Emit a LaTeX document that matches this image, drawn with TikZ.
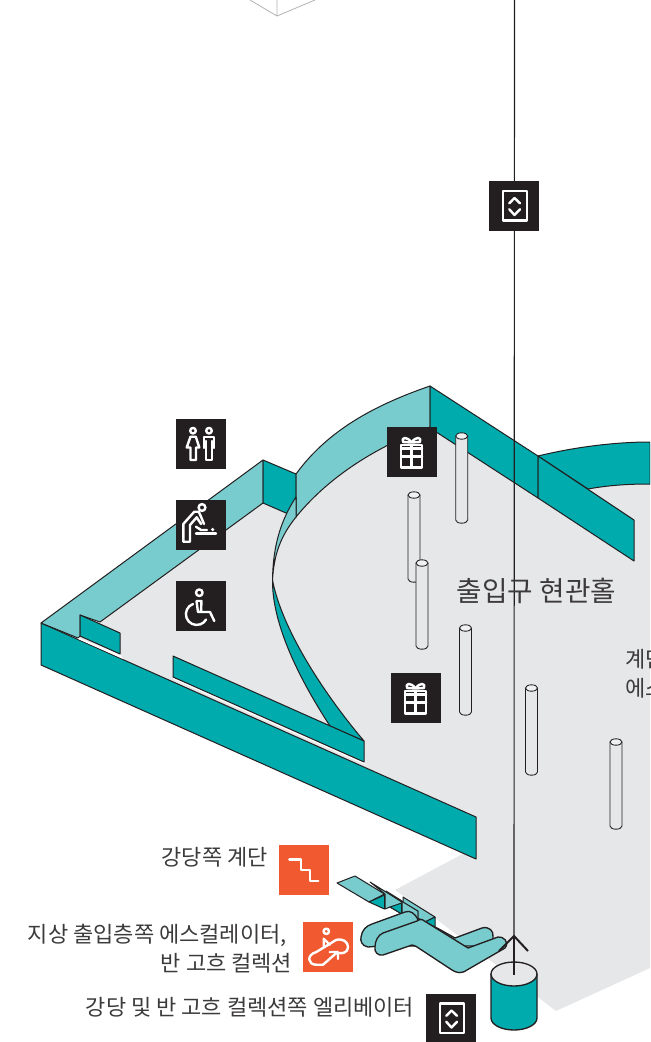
\documentclass[tikz,border=0pt]{standalone}
\usepackage{fontspec}
\newfontfamily\kr{Noto Sans CJK KR}
\definecolor{teal}{HTML}{00ABAE}
\definecolor{lteal}{HTML}{78CCCE}
\definecolor{floorg}{HTML}{E6E7E9}
\definecolor{ink}{HTML}{231F20}
\definecolor{orng}{HTML}{F15A31}
\definecolor{txt}{HTML}{3C3A3B}
\tikzset{
  wall/.style={draw=ink,line width=0.75pt,line join=round},
  dk/.style={wall,fill=teal},
  lt/.style={wall,fill=lteal},
  esc/.style={draw=ink,line width=1pt,line join=round,fill=lteal},
  pillar/.style={draw=ink,line width=0.65pt,fill=floorg},
  pillartop/.style={draw=ink,line width=0.65pt,fill=floorg!60!white},
  iconbox/.style={minimum size=37.5pt,inner sep=0pt,outer sep=0pt},
  blackbox/.style={iconbox,fill=ink},
  orangebox/.style={iconbox,fill=orng},
  gl/.style={draw=white,line width=1.8pt,line join=round,line cap=round,fill=none},
  lab/.style={inner sep=0pt,text=txt,font=\kr\fontsize{16.5}{20}\selectfont},
  biglab/.style={inner sep=0pt,text=txt,font=\kr\fontsize{20.8}{24}\selectfont},
  pics/toileticon/.style={code={
    \draw[gl] (17,11.7) circle (2.8);
    \draw[gl] (14.5,17.7)--(19.8,17.7)--(23.3,28.5)--(20,28.5)--(20,41)--(14.5,41)--(14.5,28.5)--(10.7,28.5)--cycle;
    \draw[gl] (33,11.7) circle (2.8);
    \draw[gl] (28.2,29)--(28.2,18)--(37.8,18)--(37.8,29) (30,22)--(30,41)--(36,41)--(36,22);
  }},
  pics/babyicon/.style={code={
    \draw[gl] (26,7.5) circle (3.4);
    \draw[gl] (7.3,41.7)--(7.3,24)--(18.3,11.7)--(22.7,11.7)--(25,16.7)--(28,24) (14,41.7)--(14,25)--(20.7,17.3)--(25,24) (7.3,41.7)--(14,41.7);
    \draw[gl] (20,26.7)--(25,30)--(31,30);
    \draw[gl] (20,33.6)--(40,33.6);
    \fill[white] (36.7,29.5) circle (1.8);
  }},
  pics/wheelicon/.style={code={
    \draw[gl] (23.3,11.7) circle (3.3);
    \draw[gl] (20.5,20)--(25.5,20)--(25,31)--(34,31)--(38.3,40) (20.5,20)--(22,31)--(25,31);
    \draw[gl] (17,23) arc[start angle=250,end angle=30,radius=10.8];
  }},
  pics/gifticon/.style={code={
    \draw[gl] (14,18)rectangle(35,40.3);
    \draw[gl] (14,29.5)--(35,29.5) (24.5,18)--(24.5,40.3) (14,21.5)--(35,21.5);
    \draw[gl] (24.5,15.5) .. controls (20,9) and (14,10) .. (16,15) -- (24.5,15.5) .. controls (29,9) and (35,10) .. (33,15) -- (24.5,15.5);
  }},
  pics/lifticon/.style={code={
    \draw[gl] (13.7,10) rectangle (37.7,39.5);
    \draw[gl] (20.3,22.3)--(25.5,17)--(31,22.3) (20.3,28.3)--(25.5,34)--(31,28.3);
  }},
  pics/stairicon/.style={code={
    \draw[gl] (10.3,14.3)--(21.7,14.3)--(21.7,25)--(31,25)--(31,35.7)--(39.3,35.7);
  }},
  pics/escicon/.style={code={
    \draw[gl] (23.3,9.3) circle (2.7);
    \draw[gl] (20.7,24)--(20.7,16.7)--(26.7,22.7);
    \draw[gl] (20,42.7)--(13,42.7) .. controls (5,42.7) and (3,33) .. (13.3,30) -- (33,18) .. controls (40,16) and (45,20) .. (45,25) .. controls (45,30) and (40,32) .. (36,31);
    \draw[gl] (20,42.7)--(34,30.5) (26.7,30)--(35,30)--(35,37);
  }}
}
\begin{document}
\begin{tikzpicture}[x=0.75pt,y=-0.75pt]
\useasboundingbox (0,0) rectangle (650,1042);
\clip (0,0) rectangle (650,1042);
% ghost box at the top
\draw[draw=black!30,line width=0.6pt] (250,0)--(277,16)--(315,0) (277,0)--(277,16);
% floor
\fill[floorg] (78,638)--(263,503)--(296,517) .. controls (330,475) and (380,445) .. (430,427) -- (538,498)--(588,489) .. controls (610,485) and (630,484) .. (650,484) -- (650,968)--(556,1011)--(435,918)--(395,890)--(472,849)--(476,817)--(78,640)--cycle;
% back right arc
\draw[dk] (538,456) .. controls (575,447) and (615,442) .. (650,442) -- (650,484) .. controls (630,484) and (610,485) .. (588,489) -- cycle;
% outer front wall
\draw[dk] (41,623)--(476,817)--(476,859)--(41,665)--cycle;
% left back wall
\draw[lt] (41,623)--(263,460)--(263,503)--(100,622)--(80,615)--(80,636)--(78,638)--cycle;
\draw[dk] (263,460)--(296,474)--(296,517)--(286,513)--(263,503)--cycle;
% curved back wall
\draw[lt] (296,474) .. controls (328,430) and (375,405) .. (430,386) -- (430,427) .. controls (380,445) and (330,475) .. (296,517) -- cycle;
\draw[dk] (430,386)--(538,456)--(538,498)--(430,428)--cycle;
\draw[dk] (538,456)--(634,520)--(634,561)--(538,498)--cycle;
% ribbon
\draw[lt] (296,497) .. controls (281,520) and (273,545) .. (272.5,580) .. controls (274,555) and (280,537) .. (296,517) -- cycle;
\draw[dk] (272.5,580) .. controls (272,625) and (300,680) .. (330,726) -- (364,741) .. controls (325,695) and (282,630) .. (272.5,580) -- cycle;
% partitions
\fill[white] (78,638)--(120,654)--(123,659)--(78,639)--cycle;
\fill[white] (173,677)--(364,762)--(366,765)--(173,679)--cycle;
\draw[dk] (80,615)--(120,633)--(120,654)--(80,636)--cycle;
\draw[dk] (173,656)--(364,741)--(364,762)--(173,677)--cycle;
% pillars
\foreach \cx/\ty/\by in {461.7/436/523,414/495/582,422/563/649,465.5/628/715,531.5/688/775,616/742/829}{
  \draw[pillar] (\cx-6,\ty) -- (\cx-6,\by-3) arc[start angle=180,end angle=0,x radius=6,y radius=3.2] -- (\cx+6,\ty);
  \draw[pillartop] (\cx,\ty) ellipse[x radius=6,y radius=3.2];
}
% stairs
\draw[lt] (337,883)--(355,876)--(384.5,894)--(369,902)--cycle;
\draw[dk] (369,902)--(384.5,895)--(384.5,909)--cycle;
\draw[lt] (370,882)--(402,902)--(402,914)--(390,907)--(385,909)--(385,894)--cycle;
\draw[dk] (390,907)--(401.7,903)--(401.7,914)--cycle;
\draw[lt] (386,891)--(418,911)--(418,921)--(402,914)--(402,902)--cycle;
\draw[lt] (403,897)--(435,917)--(425,922)--(418,918)--(418,911)--(403,902)--cycle;
\draw[dk] (425,922)--(435,917)--(435,927)--cycle;
% escalator
\draw[esc] (372,924)--(405,912) .. controls (410,910) and (415,913) .. (418,920)--(437,928)--(455,938)--(482,928) .. controls (489,926) and (494,931) .. (493,937) --(493,946)--(380,946)--(368,947) .. controls (362,946) and (360,941) .. (361,937) .. controls (362,930) and (366,926) .. (372,924) -- cycle;
\draw[esc] (383,933)--(417,921) .. controls (419,920) and (420,919) .. (422,919.5)--(468,948)--(498,937) .. controls (503,936) and (510,942) .. (505,948)--(467,970) .. controls (461,974) and (457,973) .. (452,970)--(417,947) .. controls (415,946) and (414,945) .. (412,945)--(383,955) .. controls (378,956) and (374,952) .. (375,947) .. controls (375,941) and (378,935) .. (383,933) -- cycle;
% elevator cylinder
\draw[dk,line width=1pt] (491,974)--(491,1018) arc[start angle=180,end angle=0,x radius=23,y radius=12] -- (537,974);
\draw[wall,fill=floorg,line width=1pt] (514,974) ellipse[x radius=23,y radius=12];
% elevator line
\coordinate (ltop) at (514.5,0);
\coordinate (tip) at (514,936);
\coordinate (lend) at (514,975);
\coordinate (armL) at (499,951);
\coordinate (armR) at (528,951);
\draw[draw=ink,line width=0.85pt] (ltop)--(tip);
\draw[draw=ink,line width=1.4pt] (tip)--(lend);
\draw[draw=ink,line width=1.5pt,line join=miter] (armL)--(tip)--(armR);
% icons
\node[blackbox] (toilet) at (201,444) {};
\pic at (toilet.north west) {toileticon};
\node[blackbox] (baby) at (201,525) {};
\pic at (baby.north west) {babyicon};
\node[blackbox] (wheel) at (201,606) {};
\pic at (wheel.north west) {wheelicon};
\node[blackbox] (gifta) at (412,452) {};
\pic at (gifta.north west) {gifticon};
\node[blackbox] (giftb) at (416,698) {};
\pic at (giftb.north west) {gifticon};
\node[blackbox] (lifta) at (514,206) {};
\pic at (lifta.north west) {lifticon};
\node[blackbox] (liftb) at (451,1018.5) {};
\pic at (liftb.north west) {lifticon};
\node[orangebox] (stairico) at (304,870) {};
\pic at (stairico.north west) {stairicon};
\node[orangebox] (escico) at (328,947) {};
\pic at (escico.north west) {escicon};
% labels
\node[biglab,anchor=west] (hall) at (456.5,591) {출입구 현관홀};
\node[lab,anchor=west] (t1) at (625,659) {계단};
\node[lab,anchor=west] (t2) at (625,688) {에스};
\node[lab,anchor=east] (t3) at (268,857) {강당쪽 계단};
\node[lab,anchor=east] (t4) at (287,935) {지상 출입층쪽 에스컬레이터,};
\node[lab,anchor=east] (t5) at (292.5,963) {반 고흐 컬렉션};
\node[lab,anchor=east] (t6) at (414.5,1007) {강당 및 반 고흐 컬렉션쪽 엘리베이터};
\end{tikzpicture}
\end{document}
